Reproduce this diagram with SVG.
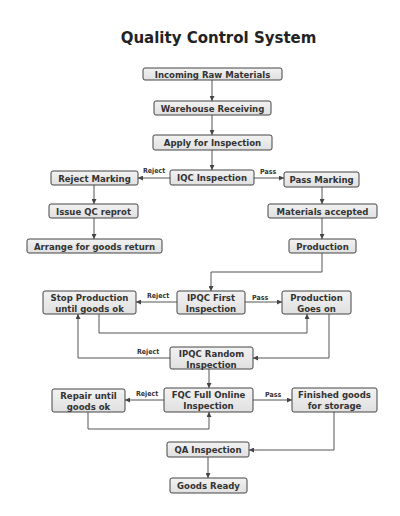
<svg xmlns="http://www.w3.org/2000/svg" width="400" height="516" viewBox="0 0 400 516">
<defs>
<linearGradient id="g" x1="0" y1="0" x2="0" y2="1">
<stop offset="0" stop-color="#f2f2f2"/>
<stop offset="1" stop-color="#e0e0e0"/>
</linearGradient>
<marker id="ah" viewBox="0 0 6 6" refX="6" refY="3" markerWidth="5" markerHeight="5" orient="auto" markerUnits="userSpaceOnUse">
<path d="M0,0 L6,3 L0,6 z" fill="#444"/>
</marker>
</defs>
<style>
.n rect{fill:url(#g);stroke:#444;stroke-width:1}
.n text{font-family:"DejaVu Sans Condensed","DejaVu Sans",sans-serif;font-weight:bold;font-size:9.5px;fill:#333;text-anchor:middle}
.c path{fill:none;stroke:#555;stroke-width:1}
.c .a{marker-end:url(#ah)}
.lb{font-family:"DejaVu Sans Condensed","DejaVu Sans",sans-serif;font-weight:bold;font-size:7px;fill:#333}
.t{font-family:"DejaVu Sans",sans-serif;font-weight:bold;font-size:15px;fill:#222;text-anchor:middle}
</style>
<rect width="400" height="516" fill="#fff"/>
<text class="t" x="218.5" y="43">Quality Control System</text>

<g class="c">
<path class="a" d="M212,80 V101"/>
<path class="a" d="M212,115 V135"/>
<path class="a" d="M212,150 V170"/>
<path class="a" d="M170,178 H138"/>
<path class="a" d="M254,178 H284"/>
<path class="a" d="M94,185 V204"/>
<path class="a" d="M94,218 V239"/>
<path class="a" d="M322,187 V204"/>
<path class="a" d="M322,218 V239"/>
<path class="a" d="M322,253 V272 H211 V291"/>
<path class="a" d="M177,302 H136"/>
<path class="a" d="M245,302 H282"/>
<path class="a" d="M99,314 V333 H307 V314"/>
<path class="a" d="M329,314 V358 H253"/>
<path class="a" d="M170,358 H78 V314"/>
<path class="a" d="M209,369 V388"/>
<path class="a" d="M164,400 H125"/>
<path class="a" d="M253,400 H292"/>
<path class="a" d="M88,412 V429 H209 V412"/>
<path class="a" d="M334,412 V450 H249"/>
<path class="a" d="M208,457 V478"/>
<text class="lb" x="143" y="173">Reject</text>
<text class="lb" x="260" y="174">Pass</text>
<text class="lb" x="147" y="298">Reject</text>
<text class="lb" x="252" y="300">Pass</text>
<text class="lb" x="137" y="354">Reject</text>
<text class="lb" x="136" y="396">Reject</text>
<text class="lb" x="265" y="397">Pass</text>
</g>

<g id="incoming" class="n"><rect x="143" y="68" width="139" height="12" rx="2"/><text x="212.5" y="77.5">Incoming Raw Materials</text></g>
<g id="warehouse" class="n"><rect x="154" y="101" width="117" height="14" rx="2"/><text x="212.5" y="111.5">Warehouse Receiving</text></g>
<g id="apply" class="n"><rect x="153" y="135" width="119" height="15" rx="2"/><text x="212.5" y="146">Apply for Inspection</text></g>
<g id="iqc" class="n"><rect x="170" y="170" width="84" height="15" rx="2"/><text x="212" y="181">IQC Inspection</text></g>
<g id="reject-marking" class="n"><rect x="51" y="171" width="87" height="14" rx="2"/><text x="94.5" y="181.5">Reject Marking</text></g>
<g id="pass-marking" class="n"><rect x="284" y="172" width="75" height="15" rx="2"/><text x="321.5" y="183">Pass Marking</text></g>
<g id="issue-qc" class="n"><rect x="49" y="204" width="89" height="14" rx="2"/><text x="93.5" y="214.5">Issue QC reprot</text></g>
<g id="materials" class="n"><rect x="268" y="204" width="109" height="14" rx="2"/><text x="322.5" y="214.5">Materials accepted</text></g>
<g id="return" class="n"><rect x="27" y="239" width="135" height="14" rx="2"/><text x="94.5" y="249.5">Arrange for goods return</text></g>
<g id="production" class="n"><rect x="289" y="239" width="67" height="14" rx="2"/><text x="322.5" y="249.5">Production</text></g>
<g id="stop" class="n"><rect x="43" y="291" width="93" height="23" rx="2"/><text x="89.5" y="301">Stop Production</text><text x="89.5" y="312">until goods ok</text></g>
<g id="ipqc-first" class="n"><rect x="177" y="291" width="68" height="23" rx="2"/><text x="211" y="301">IPQC First</text><text x="211" y="312">Inspection</text></g>
<g id="goes-on" class="n"><rect x="282" y="291" width="69" height="23" rx="2"/><text x="316.5" y="301">Production</text><text x="316.5" y="312">Goes on</text></g>
<g id="ipqc-random" class="n"><rect x="170" y="347" width="83" height="22" rx="2"/><text x="211.5" y="356.5">IPQC Random</text><text x="211.5" y="367.5">Inspection</text></g>
<g id="repair" class="n"><rect x="52" y="389" width="73" height="23" rx="2"/><text x="88.5" y="398.5">Repair until</text><text x="88.5" y="409.5">goods ok</text></g>
<g id="fqc" class="n"><rect x="164" y="388" width="89" height="24" rx="2"/><text x="208.5" y="398">FQC Full Online</text><text x="208.5" y="409">Inspection</text></g>
<g id="finished" class="n"><rect x="292" y="388" width="85" height="24" rx="2"/><text x="334.5" y="398">Finished goods</text><text x="334.5" y="409">for storage</text></g>
<g id="qa" class="n"><rect x="167" y="442" width="82" height="15" rx="2"/><text x="208" y="453">QA Inspection</text></g>
<g id="ready" class="n"><rect x="170" y="478" width="77" height="15" rx="2"/><text x="208.5" y="489">Goods Ready</text></g>
</svg>
